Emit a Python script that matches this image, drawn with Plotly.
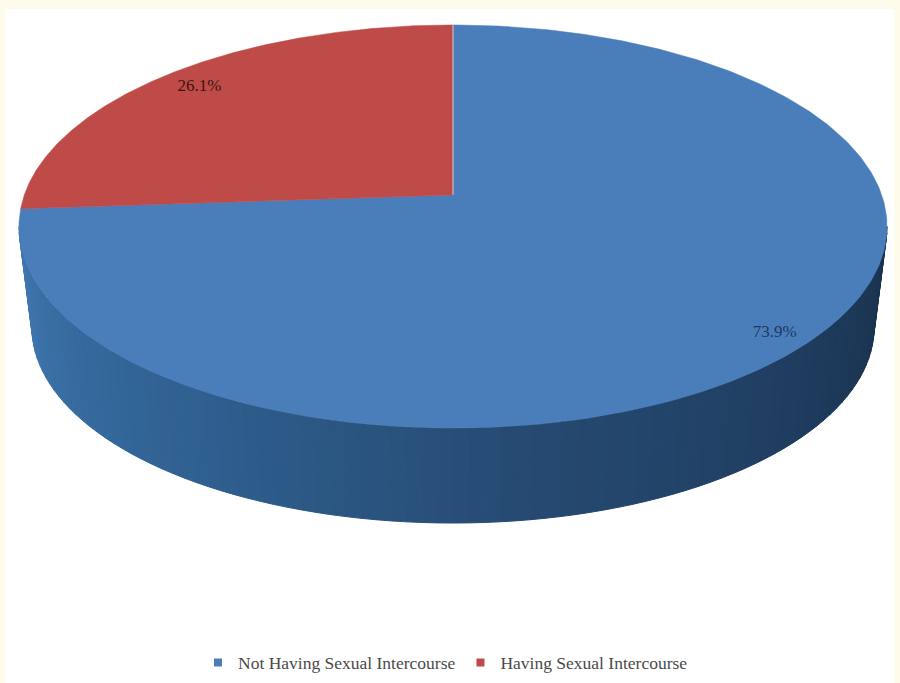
import numpy as np
import plotly.graph_objects as go
from plotly.colors import sample_colorscale

categories = ["Not Having Sexual Intercourse", "Having Sexual Intercourse"]
values = [73.9, 26.1]
top_colors = ["#4A7EBB", "#BE4B48"]
label_colors = ["#1F3864", "#3A1414"]
label_radius = [0.925, 0.885]

# projection of the tilted disc on the page
CX, CY = 453.0, 195.0
A, B, K = 428.7, 196.6, 0.1563
LOWER_SCALE, LOWER_DROP = 0.97, 102.0
side_scale = [[0.0, "#3F77B0"], [0.3, "#2F6090"], [0.55, "#264A72"], [0.8, "#1E3C5E"], [1.0, "#19304C"]]


def project(theta, r=1.0, scale=1.0, drop=0.0):
    u, v = r * np.sin(theta), r * np.cos(theta)
    w = 1 + K * v
    return CX + scale * A * u / w, CY + drop - scale * B * v / w


fig = go.Figure()

# side wall strips: visible front part of the rim, right tangent to left tangent
start, stop = np.arccos(-K), 2 * np.pi - np.arccos(-K)
edges = np.linspace(start, stop, 91)
colors = sample_colorscale(side_scale, np.linspace(1, 0, 90))
for i in range(90):
    t = np.linspace(edges[i], edges[i + 1], 3)
    x1, y1 = project(t)
    x2, y2 = project(t[::-1], scale=LOWER_SCALE, drop=LOWER_DROP)
    fig.add_trace(go.Scatter(x=np.r_[x1, x2, x1[0]], y=np.r_[y1, y2, y1[0]], mode="lines", fill="toself",
                             fillcolor=colors[i], line=dict(color=colors[i], width=1),
                             hoverinfo="skip", showlegend=False))

# top face slices, clockwise from 12 o'clock
shares = np.array(values) / sum(values)
bounds = np.r_[0, np.cumsum(shares)] * 2 * np.pi
for i, name in enumerate(categories):
    t = np.linspace(bounds[i], bounds[i + 1], 300)
    x, y = project(t)
    fig.add_trace(go.Scatter(x=np.r_[CX, x, CX], y=np.r_[CY, y, CY], mode="lines", fill="toself",
                             fillcolor=top_colors[i], line=dict(color=top_colors[i], width=0.5),
                             name=name, hoverinfo="skip", showlegend=False))

# seam at 12 o'clock
sx, sy = project(np.array([0.0]))
fig.add_trace(go.Scatter(x=[CX, sx[0]], y=[CY, sy[0]], mode="lines", line=dict(color="#C7D3E4", width=1),
                         hoverinfo="skip", showlegend=False))

# percentage labels
for i in range(2):
    mid = (bounds[i] + bounds[i + 1]) / 2
    lx, ly = project(np.array([mid]), r=label_radius[i])
    fig.add_trace(go.Scatter(x=lx, y=ly, mode="text", text=[f"{values[i]}%"], textposition="middle center",
                             textfont=dict(family="Liberation Serif", size=17, color=label_colors[i]),
                             hoverinfo="skip", showlegend=False))

# legend entries
for i, name in enumerate(categories):
    fig.add_trace(go.Scatter(x=[None], y=[None], mode="markers", name=name,
                             marker=dict(symbol="square", size=8, color=top_colors[i])))

fig.update_layout(
    width=900, height=683, margin=dict(l=0, r=0, t=0, b=0),
    paper_bgcolor="#FFFFFF", plot_bgcolor="#FFFFFF",
    xaxis=dict(range=[0, 900], visible=False, fixedrange=True),
    yaxis=dict(range=[683, 0], visible=False, fixedrange=True),
    shapes=[dict(type="rect", xref="x", yref="y", x0=0, x1=900, y0=0, y1=9,
                 fillcolor="#FFFBEA", line=dict(width=0), layer="below"),
            dict(type="rect", xref="x", yref="y", x0=0, x1=5, y0=0, y1=683,
                 fillcolor="#FFFBEA", line=dict(width=0), layer="below"),
            dict(type="rect", xref="x", yref="y", x0=894, x1=900, y0=0, y1=683,
                 fillcolor="#FFFBEA", line=dict(width=0), layer="below")],
    legend=dict(orientation="h", x=0.495, xanchor="center", y=0.03, yanchor="middle",
                bgcolor="rgba(0,0,0,0)", font=dict(family="Liberation Serif", size=17.5, color="#4A4A4A"),
                itemwidth=30),
)
fig.write_html("out.html", config=dict(displayModeBar=False), post_script="document.body.style.margin='0';")
